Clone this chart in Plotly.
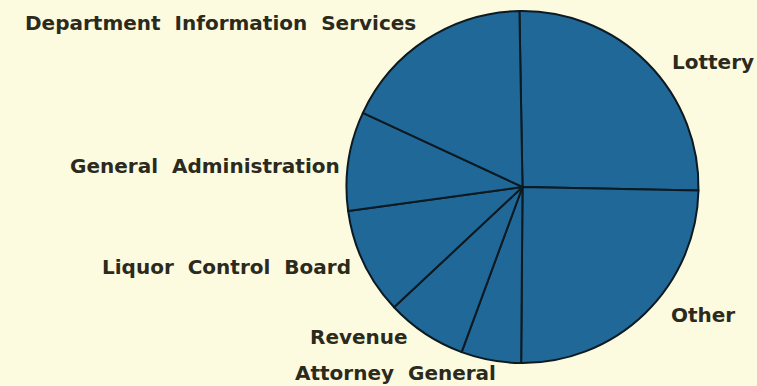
import plotly.graph_objects as go

# Share of spending by agency (percent), clockwise from 12 o'clock
agencies = ["Lottery", "Other", "Attorney General", "Revenue",
            "Liquor Control Board", "General Administration",
            "Department Information Services"]
shares = [25.6, 24.8, 5.5, 7.4, 9.8, 9.1, 17.8]

W, H = 757, 386
BG = "#fcfbdf"
BLUE = "#1f6898"
INK = "#2b2a1c"


def px_x(x):
    return x / W


def px_y(y):
    return 1 - y / H


fig = go.Figure(
    go.Pie(
        labels=agencies,
        values=shares,
        sort=False,
        direction="clockwise",
        rotation=-1,
        marker=dict(colors=[BLUE] * len(agencies),
                    line=dict(color="#0d1a22", width=2)),
        textinfo="none",
        hoverinfo="label+percent",
        domain=dict(x=[px_x(346.5), px_x(698.5)], y=[px_y(363), px_y(11)]),
        showlegend=False,
    )
)

# Label placement: (text, x, y, anchor)
label_spots = [
    ("Department\u00a0\u00a0Information\u00a0\u00a0Services", 418, 23, "right"),
    ("General\u00a0\u00a0Administration", 342, 166, "right"),
    ("Liquor\u00a0\u00a0Control\u00a0\u00a0Board", 353, 267, "right"),
    ("Revenue", 410, 337, "right"),
    ("Attorney\u00a0\u00a0General", 498, 373, "right"),
    ("Lottery", 670, 62, "left"),
    ("Other", 669, 315, "left"),
]

for text, x, y, anchor in label_spots:
    fig.add_annotation(
        text=text, x=px_x(x), y=px_y(y), xref="paper", yref="paper",
        xanchor=anchor, yanchor="middle", showarrow=False,
        font=dict(family="DejaVu Sans, sans-serif", size=20,
                  color=INK, weight="bold"),
    )

fig.update_layout(
    width=W, height=H,
    margin=dict(l=0, r=0, t=0, b=0),
    paper_bgcolor=BG,
    plot_bgcolor=BG,
)

fig.write_html("out.html", config={"displayModeBar": False})
